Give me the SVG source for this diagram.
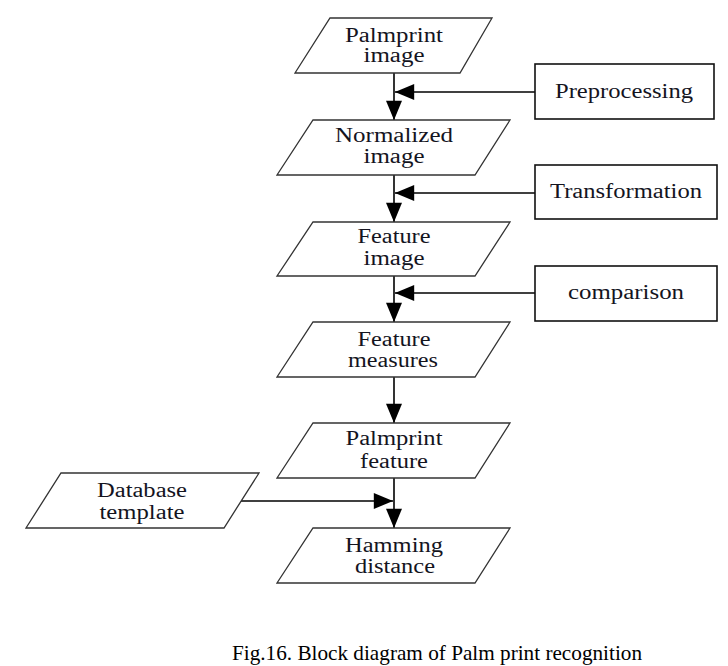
<svg xmlns="http://www.w3.org/2000/svg" width="728" height="666" viewBox="0 0 728 666">
<defs>
<style>
.shape{fill:#fff;stroke:#333;stroke-width:1.3}
.box{fill:#fff;stroke:#111;stroke-width:1.6}
.t{font-family:"Liberation Serif","Times New Roman",serif;font-size:20px;fill:#14141e;text-anchor:middle}
.edge{stroke:#000;stroke-width:1.6;fill:none;marker-end:url(#ah)}
.cap{font-family:"Liberation Serif","Times New Roman",serif;font-size:21px;fill:#000}
</style>
<marker id="ah" markerUnits="userSpaceOnUse" markerWidth="20" markerHeight="16" refX="18" refY="7.5" orient="auto" viewBox="0 0 18 15">
<path d="M0,0 L18,7.5 L0,15 Z" fill="#000"/>
</marker>
</defs>
<rect width="728" height="666" fill="#fff"/>
<g id="connectors">
<line class="edge" x1="394" y1="73" x2="394" y2="120"/>
<line class="edge" x1="394" y1="175" x2="394" y2="222"/>
<line class="edge" x1="394" y1="276" x2="394" y2="322"/>
<line class="edge" x1="394" y1="377" x2="394" y2="423"/>
<line class="edge" x1="394" y1="478" x2="394" y2="528"/>
<line class="edge" x1="535" y1="92" x2="395" y2="92"/>
<line class="edge" x1="535" y1="193" x2="395" y2="193"/>
<line class="edge" x1="535" y1="293" x2="395" y2="293"/>
<line class="edge" x1="241" y1="501" x2="393" y2="501"/>
</g>
<g id="palmprint-image">
<polygon class="shape" points="330,18 492,18 460,73 295,73"/>
<text class="t" x="394" y="42" textLength="98" lengthAdjust="spacingAndGlyphs">Palmprint</text>
<text class="t" x="394" y="62" textLength="61" lengthAdjust="spacingAndGlyphs">image</text>
</g>
<g id="preprocessing">
<rect class="box" x="535" y="64" width="179" height="55"/>
<text class="t" x="624" y="98" textLength="138" lengthAdjust="spacingAndGlyphs">Preprocessing</text>
</g>
<g id="normalized-image">
<polygon class="shape" points="313,120 510,120 475,175 277,175"/>
<text class="t" x="394" y="142" textLength="118" lengthAdjust="spacingAndGlyphs">Normalized</text>
<text class="t" x="394" y="163" textLength="61" lengthAdjust="spacingAndGlyphs">image</text>
</g>
<g id="transformation">
<rect class="box" x="535" y="165" width="182" height="54"/>
<text class="t" x="626" y="198" textLength="152" lengthAdjust="spacingAndGlyphs">Transformation</text>
</g>
<g id="feature-image">
<polygon class="shape" points="313,222 510,222 475,276 277,276"/>
<text class="t" x="394" y="243" textLength="73" lengthAdjust="spacingAndGlyphs">Feature</text>
<text class="t" x="394" y="265" textLength="61" lengthAdjust="spacingAndGlyphs">image</text>
</g>
<g id="comparison">
<rect class="box" x="535" y="266" width="182" height="55"/>
<text class="t" x="626" y="299" textLength="116" lengthAdjust="spacingAndGlyphs">comparison</text>
</g>
<g id="feature-measures">
<polygon class="shape" points="313,322 510,322 475,377 277,377"/>
<text class="t" x="394" y="346" textLength="73" lengthAdjust="spacingAndGlyphs">Feature</text>
<text class="t" x="393" y="367" textLength="90" lengthAdjust="spacingAndGlyphs">measures</text>
</g>
<g id="palmprint-feature">
<polygon class="shape" points="313,423 510,423 475,478 277,478"/>
<text class="t" x="394" y="445" textLength="97" lengthAdjust="spacingAndGlyphs">Palmprint</text>
<text class="t" x="394" y="468" textLength="68" lengthAdjust="spacingAndGlyphs">feature</text>
</g>
<g id="database-template">
<polygon class="shape" points="61,473 259,473 224,528 26,528"/>
<text class="t" x="142" y="497" textLength="90" lengthAdjust="spacingAndGlyphs">Database</text>
<text class="t" x="142" y="519" textLength="85" lengthAdjust="spacingAndGlyphs">template</text>
</g>
<g id="hamming-distance">
<polygon class="shape" points="313,528 510,528 475,583 277,583"/>
<text class="t" x="394" y="552" textLength="98" lengthAdjust="spacingAndGlyphs">Hamming</text>
<text class="t" x="395" y="573" textLength="80" lengthAdjust="spacingAndGlyphs">distance</text>
</g>
<text class="cap" x="232" y="660" textLength="410" lengthAdjust="spacingAndGlyphs">Fig.16. Block diagram of Palm print recognition</text>
</svg>
